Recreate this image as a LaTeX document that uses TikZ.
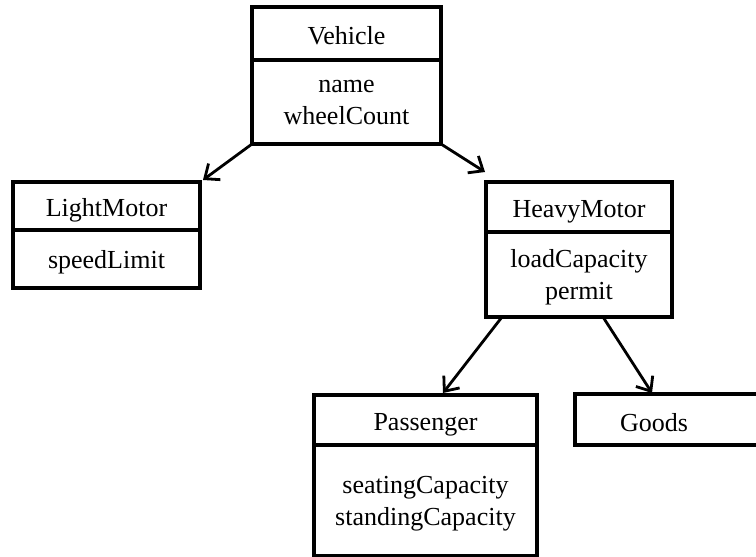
\documentclass[tikz,border=0pt]{standalone}
\usepackage{fontspec}
\setmainfont{Liberation Serif}
\usetikzlibrary{arrows.meta,calc}
\begin{document}
\begin{tikzpicture}[x=1pt,y=-1pt,
  part/.style={draw,line width=3.3pt,anchor=north west,inner sep=0pt,outer sep=0pt,
    font=\fontsize{26}{32}\selectfont,align=center},
  title/.style={part,text height=21pt,text depth=0pt},
  body/.style={part,text depth=0pt},
  gen/.style={line width=2.8pt,-{Straight Barb[length=12pt,width=20pt]}}]
\clip (0,0) rectangle (756,557);
\fill[white] (0,0) rectangle (756,557);
% Vehicle
\node[title,minimum width=189pt,minimum height=53pt] (vt) at (252,7) {Vehicle};
\node[body,minimum width=189pt,minimum height=84pt] (vb) at (252,60) {name\\wheelCount};
% LightMotor
\node[title,minimum width=187pt,minimum height=48pt] (lt) at (13,182) {LightMotor};
\node[body,minimum width=187pt,minimum height=58pt] (lb) at (13,230) {speedLimit};
% HeavyMotor
\node[title,minimum width=186pt,minimum height=50pt] (ht) at (486,182) {HeavyMotor};
\node[body,minimum width=186pt,minimum height=85pt] (hb) at (486,232) {loadCapacity\\permit};
% Passenger
\node[title,minimum width=223pt,minimum height=50pt] (pt) at (314,395) {Passenger};
\node[body,minimum width=223pt,minimum height=111pt] (pb) at (314,445) {seatingCapacity\\standingCapacity};
% Goods
\node[part,minimum width=200pt,minimum height=51pt] (gt) at (575,394) {};
\node[font=\fontsize{26}{32}\selectfont,inner sep=0pt] (gl) at (654,423) {Goods};
% generalisation arrows
\draw[gen] (vb.south west) -- ($(lt.north east)+(3,-2)$);
\draw[gen] (vb.south east) -- ($(ht.north west)+(-1,-10)$);
\draw[gen] ($(hb.south west)+(16,0)$) -- ($(pt.north west)+(129,-2)$);
\draw[gen] ($(hb.south west)+(117,0)$) -- ($(gt.north west)+(77,-1)$);
\end{tikzpicture}
\end{document}
